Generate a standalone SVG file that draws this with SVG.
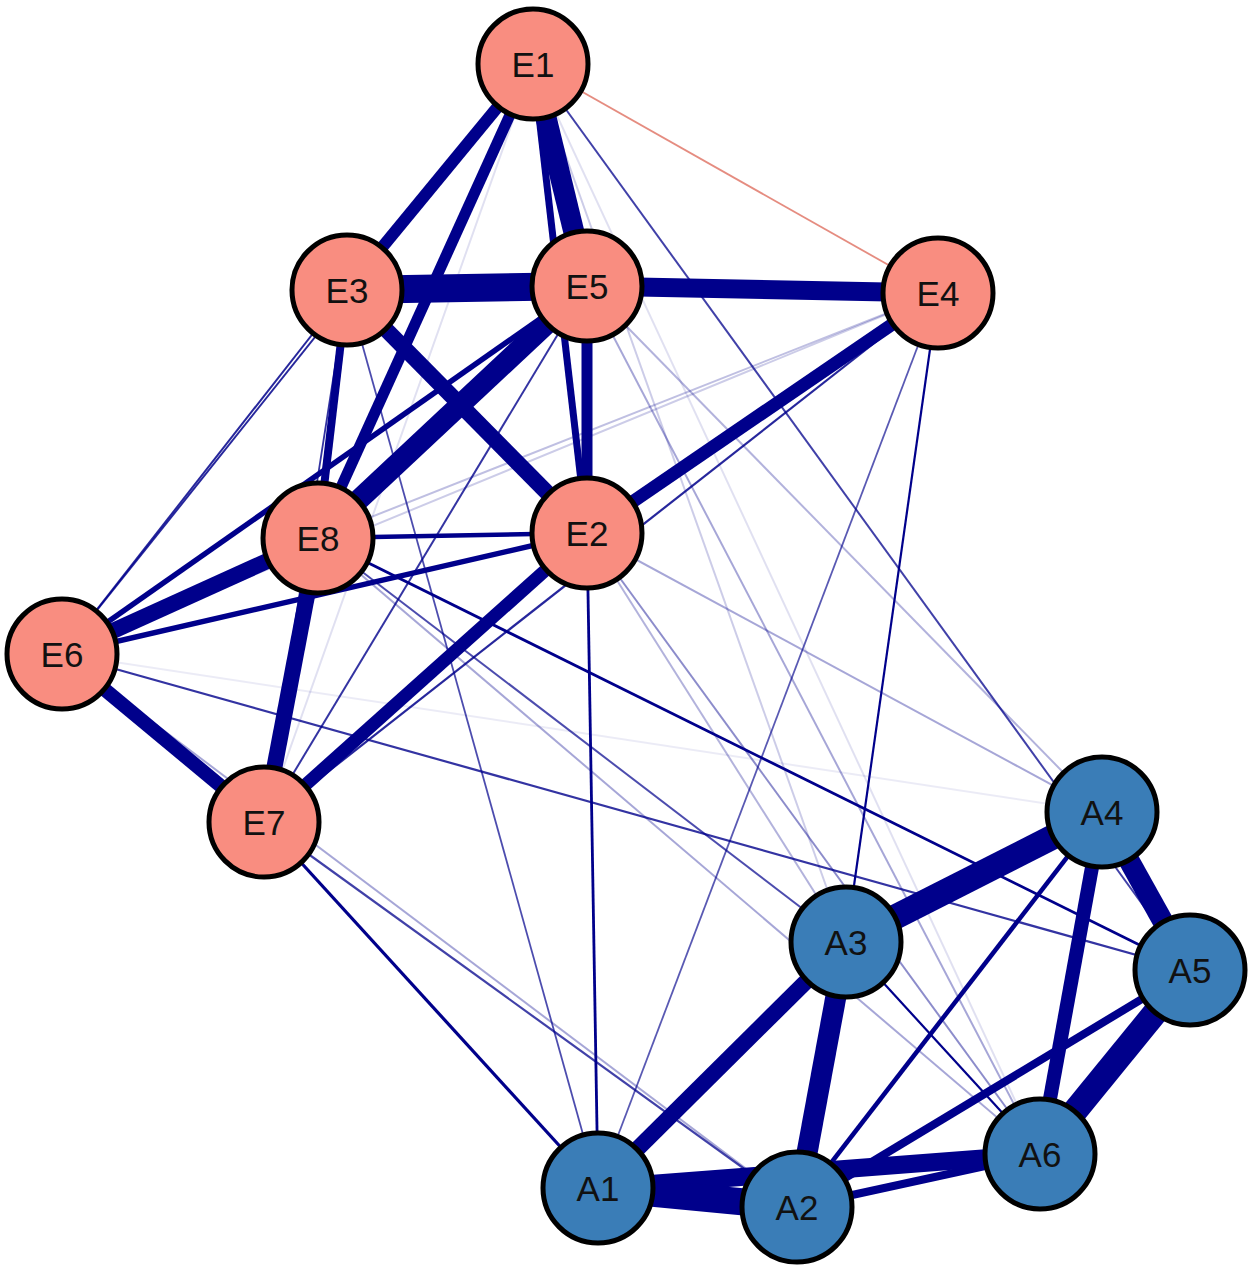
<svg xmlns="http://www.w3.org/2000/svg" width="1252" height="1270" viewBox="0 0 1252 1270">
<style>
.e{stroke:#00008B;stroke-linecap:butt;fill:none}
.neg{stroke:#E0786A;fill:none}
.n circle{stroke:#000;stroke-width:5}
.E circle{fill:#F98D80}
.A circle{fill:#3A7DB7}
.n text{font-family:"Liberation Sans",Arial,sans-serif;font-size:35px;fill:#111;text-anchor:middle;dominant-baseline:central}
</style>
<rect width="1252" height="1270" fill="#fff"/>
<g id="edges">
<line class="e" x1="62" y1="654" x2="1102" y2="812" stroke-width="2" stroke-opacity="0.08"/>
<line class="e" x1="533" y1="64" x2="264" y2="822" stroke-width="2" stroke-opacity="0.12"/>
<line class="e" x1="533" y1="64" x2="1040" y2="1154" stroke-width="2" stroke-opacity="0.12"/>
<line class="e" x1="533" y1="64" x2="846" y2="942" stroke-width="2" stroke-opacity="0.2"/>
<line class="e" x1="938" y1="293" x2="62" y2="654" stroke-width="2" stroke-opacity="0.2"/>
<line class="e" x1="938" y1="293" x2="318" y2="538" stroke-width="2" stroke-opacity="0.25"/>
<line class="e" x1="587" y1="286" x2="1102" y2="812" stroke-width="2" stroke-opacity="0.3"/>
<line class="e" x1="587" y1="533" x2="846" y2="942" stroke-width="2" stroke-opacity="0.3"/>
<line class="e" x1="587" y1="286" x2="1040" y2="1154" stroke-width="2" stroke-opacity="0.35"/>
<line class="e" x1="587" y1="533" x2="1102" y2="812" stroke-width="2" stroke-opacity="0.35"/>
<line class="e" x1="318" y1="538" x2="1040" y2="1154" stroke-width="2" stroke-opacity="0.35"/>
<line class="e" x1="62" y1="654" x2="797" y2="1207" stroke-width="2" stroke-opacity="0.35"/>
<line class="e" x1="587" y1="533" x2="1040" y2="1154" stroke-width="2" stroke-opacity="0.45"/>
<line class="neg" x1="533" y1="64" x2="938" y2="293" stroke-width="1.8" stroke-opacity="0.85"/>
<line class="e" x1="938" y1="293" x2="598" y2="1188" stroke-width="1.8" stroke-opacity="0.65"/>
<line class="e" x1="347" y1="290" x2="598" y2="1188" stroke-width="1.8" stroke-opacity="0.7"/>
<line class="e" x1="318" y1="538" x2="846" y2="942" stroke-width="2" stroke-opacity="0.7"/>
<line class="e" x1="533" y1="64" x2="1190" y2="970" stroke-width="2" stroke-opacity="0.75"/>
<line class="e" x1="62" y1="654" x2="1190" y2="970" stroke-width="2.2" stroke-opacity="0.8"/>
<line class="e" x1="264" y1="822" x2="797" y2="1207" stroke-width="2.2" stroke-opacity="0.75"/>
<line class="e" x1="587" y1="286" x2="264" y2="822" stroke-width="2" stroke-opacity="0.8"/>
<line class="e" x1="938" y1="293" x2="264" y2="822" stroke-width="2.2" stroke-opacity="0.85"/>
<line class="e" x1="347" y1="290" x2="62" y2="654" stroke-width="2" stroke-opacity="0.85"/>
<line class="e" x1="533" y1="64" x2="62" y2="654" stroke-width="2" stroke-opacity="0.85"/>
<line class="e" x1="347" y1="290" x2="264" y2="822" stroke-width="1.8" stroke-opacity="0.8"/>
<line class="e" x1="938" y1="293" x2="846" y2="942" stroke-width="2.2"/>
<line class="e" x1="846" y1="942" x2="1040" y2="1154" stroke-width="2.2"/>
<line class="e" x1="587" y1="533" x2="598" y2="1188" stroke-width="2.8"/>
<line class="e" x1="318" y1="538" x2="1190" y2="970" stroke-width="2.8"/>
<line class="e" x1="264" y1="822" x2="598" y2="1188" stroke-width="3.2"/>
<line class="e" x1="318" y1="538" x2="587" y2="533" stroke-width="4.5"/>
<line class="e" x1="1102" y1="812" x2="797" y2="1207" stroke-width="4.5"/>
<line class="e" x1="587" y1="286" x2="62" y2="654" stroke-width="5.5"/>
<line class="e" x1="587" y1="533" x2="62" y2="654" stroke-width="5.5"/>
<line class="e" x1="533" y1="64" x2="587" y2="533" stroke-width="7"/>
<line class="e" x1="1190" y1="970" x2="797" y2="1207" stroke-width="8"/>
<line class="e" x1="797" y1="1207" x2="1040" y2="1154" stroke-width="8"/>
<line class="e" x1="347" y1="290" x2="318" y2="538" stroke-width="8"/>
<line class="e" x1="587" y1="286" x2="587" y2="533" stroke-width="11"/>
<line class="e" x1="533" y1="64" x2="318" y2="538" stroke-width="11"/>
<line class="e" x1="533" y1="64" x2="347" y2="290" stroke-width="12"/>
<line class="e" x1="938" y1="293" x2="587" y2="533" stroke-width="13"/>
<line class="e" x1="587" y1="533" x2="264" y2="822" stroke-width="13"/>
<line class="e" x1="62" y1="654" x2="264" y2="822" stroke-width="14"/>
<line class="e" x1="1102" y1="812" x2="1040" y2="1154" stroke-width="14"/>
<line class="e" x1="318" y1="538" x2="264" y2="822" stroke-width="16"/>
<line class="e" x1="318" y1="538" x2="62" y2="654" stroke-width="16"/>
<line class="e" x1="347" y1="290" x2="587" y2="533" stroke-width="16"/>
<line class="e" x1="598" y1="1188" x2="846" y2="942" stroke-width="16"/>
<line class="e" x1="598" y1="1188" x2="1040" y2="1154" stroke-width="18"/>
<line class="e" x1="587" y1="286" x2="938" y2="293" stroke-width="19"/>
<line class="e" x1="587" y1="286" x2="318" y2="538" stroke-width="21"/>
<line class="e" x1="1102" y1="812" x2="1190" y2="970" stroke-width="21"/>
<line class="e" x1="797" y1="1207" x2="846" y2="942" stroke-width="21"/>
<line class="e" x1="533" y1="64" x2="587" y2="286" stroke-width="21"/>
<line class="e" x1="1190" y1="970" x2="1040" y2="1154" stroke-width="25"/>
<line class="e" x1="846" y1="942" x2="1102" y2="812" stroke-width="25"/>
<line class="e" x1="598" y1="1188" x2="797" y2="1207" stroke-width="27"/>
<line class="e" x1="347" y1="290" x2="587" y2="286" stroke-width="28"/>
</g>
<g id="E1" class="n E"><circle cx="533" cy="64" r="55"/><text x="533" y="64">E1</text></g>
<g id="E2" class="n E"><circle cx="587" cy="533" r="55"/><text x="587" y="533">E2</text></g>
<g id="E3" class="n E"><circle cx="347" cy="290" r="55"/><text x="347" y="290">E3</text></g>
<g id="E4" class="n E"><circle cx="938" cy="293" r="55"/><text x="938" y="293">E4</text></g>
<g id="E5" class="n E"><circle cx="587" cy="286" r="55"/><text x="587" y="286">E5</text></g>
<g id="E6" class="n E"><circle cx="62" cy="654" r="55"/><text x="62" y="654">E6</text></g>
<g id="E7" class="n E"><circle cx="264" cy="822" r="55"/><text x="264" y="822">E7</text></g>
<g id="E8" class="n E"><circle cx="318" cy="538" r="55"/><text x="318" y="538">E8</text></g>
<g id="A1" class="n A"><circle cx="598" cy="1188" r="55"/><text x="598" y="1188">A1</text></g>
<g id="A2" class="n A"><circle cx="797" cy="1207" r="55"/><text x="797" y="1207">A2</text></g>
<g id="A3" class="n A"><circle cx="846" cy="942" r="55"/><text x="846" y="942">A3</text></g>
<g id="A4" class="n A"><circle cx="1102" cy="812" r="55"/><text x="1102" y="812">A4</text></g>
<g id="A5" class="n A"><circle cx="1190" cy="970" r="55"/><text x="1190" y="970">A5</text></g>
<g id="A6" class="n A"><circle cx="1040" cy="1154" r="55"/><text x="1040" y="1154">A6</text></g>
</svg>
